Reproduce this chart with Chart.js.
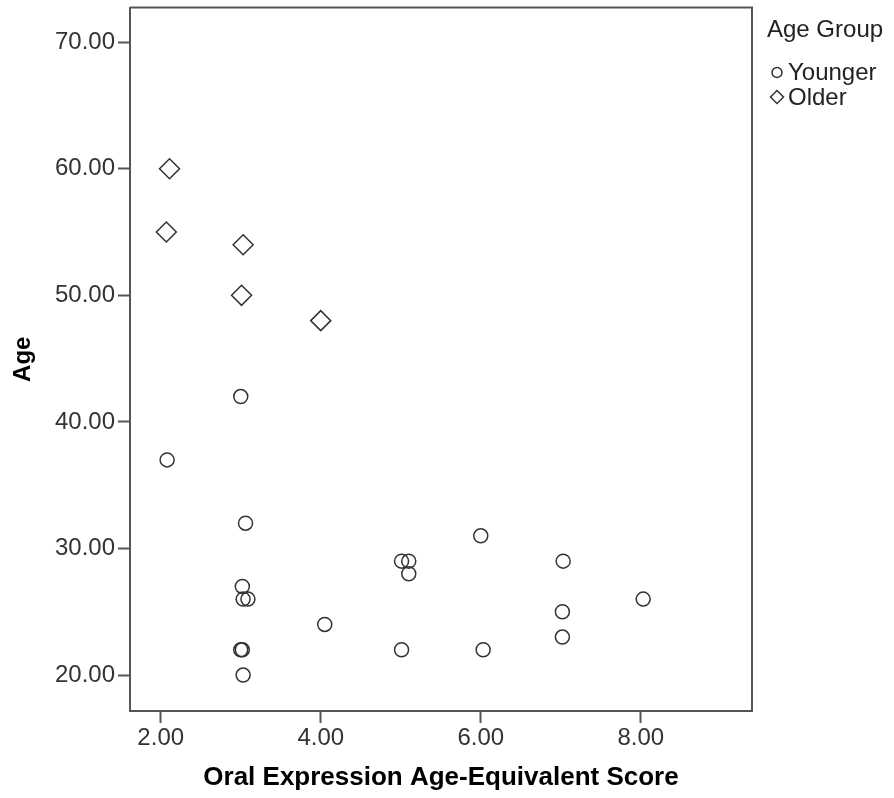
<!DOCTYPE html>
<html>
<head>
<meta charset="utf-8">
<script src="https://cdn.jsdelivr.net/npm/chart.js@4/dist/chart.umd.min.js"></script>
<style>
html,body{margin:0;padding:0;background:#fff;}
#wrap{position:relative;width:894px;height:798px;overflow:hidden;}
#c{position:absolute;left:0;top:-4px;}
</style>
</head>
<body>
<div id="wrap"><canvas id="c" width="894" height="802"></canvas></div>
<script>
// ---- data ----
const youngerX = [3.00, 2.08, 3.06, 3.02, 3.03, 3.09, 3.00, 3.02, 3.03, 4.05, 5.01, 5.10, 5.10, 5.01, 6.00, 6.03, 7.03, 7.02, 7.02, 8.03];
const youngerY = [42, 37, 32, 27, 26, 26, 22, 22, 20, 24, 29, 29, 28, 22, 31, 22, 29, 25, 23, 26];
const olderX = [2.11, 2.07, 3.03, 3.01, 4.00];
const olderY = [60, 55, 54, 50, 48];
const xTicks = [2, 4, 6, 8];
const yTicks = [20, 30, 40, 50, 60, 70];
const seriesNames = ['Younger', 'Older'];
const legendTitle = 'Age Group';
const xTitle = 'Oral Expression Age-Equivalent Score';
const yTitle = 'Age';

const FONT = "'Liberation Sans', Arial, sans-serif";
const AXIS = '#555555';
const MARK = '#333333';
const SHIFT = 4;

function pts(xs, ys){ return xs.map((x,i)=>({x:x, y:ys[i]})); }

const frameAndLegend = {
  id: 'frameAndLegend',
  afterDraw(chart){
    const ctx = chart.ctx, a = chart.chartArea;
    ctx.save();
    ctx.strokeStyle = AXIS; ctx.lineWidth = 2;
    ctx.beginPath();
    ctx.moveTo(a.left, a.top); ctx.lineTo(a.right, a.top); ctx.lineTo(a.right, a.bottom);
    ctx.stroke();
    // legend
    ctx.fillStyle = '#222'; ctx.textBaseline = 'middle'; ctx.textAlign = 'left';
    ctx.font = '24px ' + FONT;
    ctx.fillText(legendTitle, 767, 30 + SHIFT);
    ctx.fillText(seriesNames[0], 788, 73 + SHIFT);
    ctx.fillText(seriesNames[1], 788, 98 + SHIFT);
    ctx.strokeStyle = MARK; ctx.lineWidth = 1.5;
    const cy = 72.5 + SHIFT, dy = 97 + SHIFT;
    ctx.beginPath(); ctx.arc(777, cy, 5, 0, Math.PI*2); ctx.stroke();
    ctx.beginPath();
    ctx.moveTo(777-6.5, dy); ctx.lineTo(777, dy-6.5); ctx.lineTo(777+6.5, dy); ctx.lineTo(777, dy+6.5); ctx.closePath();
    ctx.stroke();
    ctx.restore();
  }
};

new Chart(document.getElementById('c'), {
  type: 'scatter',
  data: {
    datasets: [
      { label: seriesNames[0], data: pts(youngerX, youngerY), pointStyle: 'circle', pointRadius: 7, pointHoverRadius: 7,
        pointBorderWidth: 1.5, borderColor: MARK, backgroundColor: 'rgba(0,0,0,0)' },
      { label: seriesNames[1], data: pts(olderX, olderY), pointStyle: 'rectRot', pointRadius: 10, pointHoverRadius: 10,
        pointBorderWidth: 1.5, borderColor: MARK, backgroundColor: 'rgba(0,0,0,0)' }
    ]
  },
  options: {
    responsive: false,
    animation: false,
    events: [],
    layout: { padding: { top: 3, right: 142, left: 0, bottom: 0 } },
    plugins: { legend: { display: false }, tooltip: { enabled: false } },
    scales: {
      x: {
        type: 'linear', min: 1.616, max: 9.39,
        afterBuildTicks(s){ s.ticks = xTicks.map(v=>({value:v})); },
        afterFit(s){ s.height = 87; s.paddingLeft = 0; s.paddingRight = 0; },
        ticks: { callback: v => v.toFixed(2), color: '#333', font: { family: FONT, size: 24 }, padding: 1, maxRotation: 0, autoSkip: false },
        grid: { drawOnChartArea: false, drawTicks: true, tickLength: 12, tickColor: AXIS, tickWidth: 2 },
        border: { display: true, color: AXIS, width: 2 },
        title: { display: true, text: xTitle, color: '#000', font: { family: FONT, size: 26, weight: 'bold' }, padding: { top: 0, bottom: 5 } }
      },
      y: {
        type: 'linear', min: 17.16, max: 72.74,
        afterBuildTicks(s){ s.ticks = yTicks.map(v=>({value:v})); },
        afterFit(s){ s.width = 130; s.paddingTop = 0; s.paddingBottom = 0; },
        ticks: { callback: v => v.toFixed(2), color: '#333', font: { family: FONT, size: 24 }, padding: 3, autoSkip: false },
        grid: { drawOnChartArea: false, drawTicks: true, tickLength: 12, tickColor: AXIS, tickWidth: 2 },
        border: { display: true, color: AXIS, width: 2 },
        title: { display: true, text: yTitle, color: '#000', font: { family: FONT, size: 24, weight: 'bold' }, padding: { top: 9, bottom: 0 } }
      }
    }
  },
  plugins: [frameAndLegend]
});
</script>
</body>
</html>
